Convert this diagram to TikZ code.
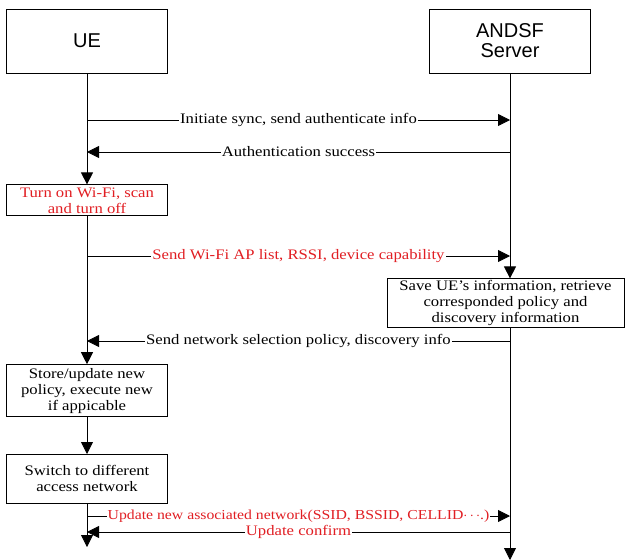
\documentclass[tikz,border=0pt]{standalone}
\usepackage{fontspec}
\setmainfont{Liberation Serif}[FakeStretch=1.15]
\newfontfamily\actorfont{Liberation Sans}
\usepackage{tikz}
\usetikzlibrary{arrows.meta, positioning}
\definecolor{msgred}{RGB}{225,30,35}

\begin{document}
\begin{tikzpicture}[
  x=1pt, y=-1pt,
  node distance=37pt,
  actor/.style={draw, line width=0.8pt, align=center,
                font=\actorfont\fontsize{20}{20}\selectfont,
                minimum width=161pt, minimum height=64pt},
  stepbox/.style={draw, line width=0.8pt, align=center, inner sep=0pt,
                  font=\fontsize{14.5}{16}\selectfont, minimum width=161pt},
  arr/.style={-{Triangle[length=12pt, width=12pt]}, line width=0.8pt},
  msg/.style={fill=white, inner sep=1pt, font=\fontsize{14.5}{16}\selectfont},
]
\useasboundingbox (0,0) rectangle (625,560);

% Actors
\node[actor] (ue)    at (87,41)  {UE};
\node[actor] (andsf) at (510,41) {ANDSF\\Server};

% Steps on the UE side
\node[stepbox, below=111pt of ue, minimum height=31pt, text=msgred] (wifi)
  {Turn on Wi-Fi, scan\\and turn off};
\node[stepbox, below=148pt of wifi, minimum height=52pt] (store)
  {Store/update new\\policy, execute new\\if appicable};
\node[stepbox, below=of store, minimum height=49pt] (switch)
  {Switch to different\\access network};

% Step on the server side
\node[stepbox, below=205pt of andsf, xshift=-4.5pt, minimum width=237pt,
      minimum height=49pt] (save)
  {Save UE’s information, retrieve\\corresponded policy and\\discovery information};

% Lifeline ends
\coordinate (ueend)  at (87,547);
\coordinate (srvend) at (510,560);

% Lifelines
\draw[arr] (ue) -- (wifi);
\draw[arr] (wifi) -- (store);
\draw[arr] (store) -- (switch);
\draw[arr] (switch) -- (ueend);
\draw[arr] (andsf) -- (andsf |- save.north);
\draw[arr] (andsf |- save.south) -- (srvend);

% Message anchors
\coordinate (u1) at (ue |- 0,120);  \coordinate (s1) at (andsf |- 0,120);
\coordinate (u2) at (ue |- 0,152);  \coordinate (s2) at (andsf |- 0,152);
\coordinate (u3) at (ue |- 0,256);  \coordinate (s3) at (andsf |- 0,256);
\coordinate (u4) at (ue |- 0,341);  \coordinate (s4) at (andsf |- 0,341);
\coordinate (u5) at (ue |- 0,516);  \coordinate (s5) at (andsf |- 0,516);
\coordinate (u6) at (ue |- 0,532);  \coordinate (s6) at (andsf |- 0,532);

% Messages
\draw[arr] (u1) -- node[msg] {Initiate sync, send authenticate info} (s1);
\draw[arr] (s2) -- node[msg] {Authentication success} (u2);
\draw[arr] (u3) -- node[msg, text=msgred] {Send Wi-Fi AP list, RSSI, device capability} (s3);
\draw[arr] (s4) -- node[msg] {Send network selection policy, discovery info} (u4);
\draw[arr] (u5) -- node[msg, text=msgred, font=\fontsize{13.7}{16}\selectfont]
  {Update new associated network(SSID, BSSID, CELLID$\cdots$.)} (s5);
\draw[arr] (s6) -- node[msg, text=msgred] {Update confirm} (u6);

\end{tikzpicture}
\end{document}
